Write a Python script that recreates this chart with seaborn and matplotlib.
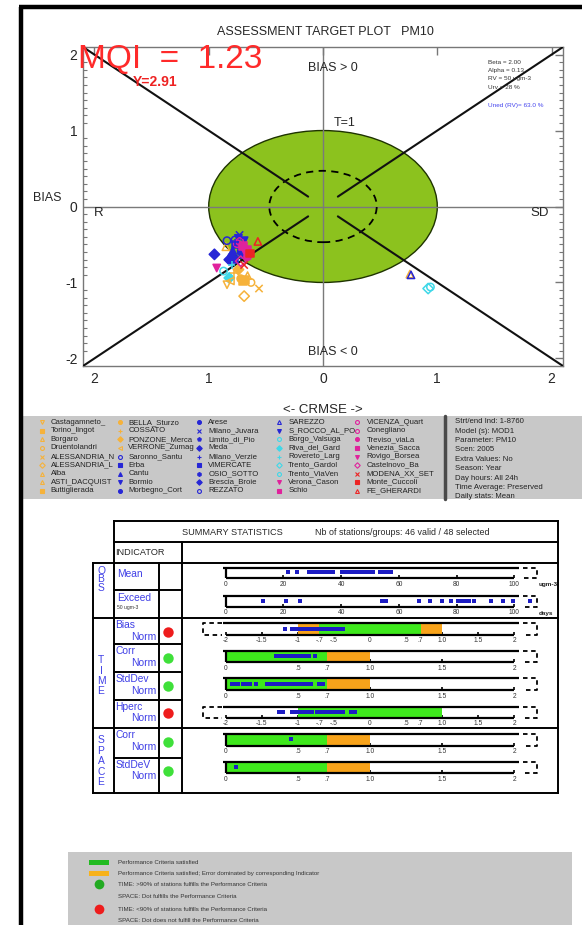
import numpy as np
import pandas as pd
import matplotlib
matplotlib.use("Agg")
import matplotlib.pyplot as plt
from matplotlib.patches import Circle, Rectangle
import seaborn as sns

sns.set_style("white")
plt.rcParams["font.family"] = ["Liberation Sans", "DejaVu Sans"]

W, H = 582, 925

# ---------------------------------------------------------------- data
stations = [
    "Castagamneto_", "Torino_lingot", "Borgaro", "Druentolandri", "ALESSANDRIA_N",
    "ALESSANDRIA_L", "Alba", "ASTI_DACQUIST", "Buttiglierada",
    "BELLA_Sturzo", "COSSATO", "PONZONE_Merca", "VERRONE_Zumag", "Saronno_Santu",
    "Erba", "Cantu", "Bormio", "Morbegno_Cort",
    "Arese", "Milano_Juvara", "Limito_di_Pio", "Meda", "Milano_Verzie",
    "VIMERCATE", "OSIO_SOTTO", "Brescia_Broie", "REZZATO",
    "SAREZZO", "S_ROCCO_AL_PO", "Borgo_Valsuga", "Riva_del_Gard", "Rovereto_Larg",
    "Trento_Gardol", "Trento_ViaVen", "Verona_Cason", "Schio",
    "VICENZA_Quart", "Conegliano", "Treviso_viaLa", "Venezia_Sacca", "Rovigo_Borsea",
    "Castelnovo_Ba", "MODENA_XX_SET", "Monte_Cuccoli", "FE_GHERARDI",
]
station_group = (["orange"] * 9 + ["orange"] * 4 + ["blue"] * 5 + ["blue"] * 9
                 + ["blue"] * 2 + ["cyan"] * 5 + ["magenta"] * 2
                 + ["magenta"] * 6 + ["red"] * 3)
station_marker = [
    "v", "s", "^", "o", "x", "D", "^", "^", "s",
    "o", "+", "D", "<", "o", "s", "^", "v", "o",
    "o", "x", "p", "D", "+", "s", "h", "D", "o",
    "^", "v", "o", "D", "+", "D", "o", "v", "s",
    "o", "o", "o", "s", "v", "D", "x", "s", "^",
]
station_open = [
    1, 0, 1, 1, 0, 1, 1, 1, 0,
    0, 0, 0, 1, 1, 0, 0, 0, 0,
    0, 0, 0, 0, 0, 0, 0, 0, 1,
    1, 0, 1, 0, 0, 1, 1, 0, 0,
    1, 1, 0, 0, 0, 1, 0, 0, 1,
]
# signed normalised CRMSE (x) and normalised bias (y)
crmse = [
    -0.84, -0.70, -0.66, -0.63, -0.56, -0.69, 0.76, -0.85, -0.68,
    -0.72, -0.78, -0.74, -0.81, -0.84, -0.76, -0.79, -0.74, -0.80,
    -0.71, -0.73, -0.70, -0.95, -0.77, -0.78, -0.72, -0.82, -0.77,
    0.77, -0.69, -0.87, -0.82, -0.80, 0.92, 0.94, -0.93, -0.66,
    -0.73, -0.75, -0.66, -0.70, -0.68, -0.72, -0.69, -0.64, -0.57,
]
bias = [
    -1.03, -0.99, -0.91, -1.00, -1.08, -1.18, -0.89, -0.53, -0.97,
    -0.95, -0.88, -0.83, -0.98, -0.45, -0.50, -0.58, -0.42, -0.66,
    -0.55, -0.375, -0.64, -0.63, -0.47, -0.70, -0.60, -0.70, -0.44,
    -0.90, -0.45, -0.85, -0.94, -0.77, -1.08, -1.06, -0.81, -0.57,
    -0.46, -0.49, -0.66, -0.52, -0.61, -0.72, -0.77, -0.62, -0.46,
]
group_colors = {"orange": "#f6b23a", "blue": "#2626d6", "cyan": "#3fd8e8",
                "magenta": "#e0229c", "red": "#ec2424"}

obs_mean = [21.7, 24.8, 28.9, 29.4, 30.0, 30.6, 31.1, 31.6, 32.2, 32.7, 33.1, 33.6,
            34.2, 34.7, 35.2, 35.8, 36.4, 36.9, 37.3, 40.2, 40.6, 41.1, 41.6, 42.0,
            42.5, 43.1, 43.6, 44.0, 44.5, 44.9, 45.5, 46.0, 46.4, 46.9, 47.4, 47.9,
            48.4, 48.9, 49.4, 49.9, 50.4, 50.9, 53.5, 54.6, 55.8, 57.2]
obs_exceed = [12.8, 20.9, 25.7, 54.0, 55.5, 67.1, 70.8, 74.8, 77.9, 80.6, 81.8,
              82.9, 84.4, 86.0, 91.8, 96.0, 99.4, 112.0, 125.0, 140.0]
corr_norm = [0.349, 0.372, 0.395, 0.418, 0.441, 0.464, 0.487, 0.510, 0.533,
             0.556, 0.580, 0.619, 0.40, 0.45, 0.50, 0.52]
stddev_norm = [0.041, 0.064, 0.087, 0.122, 0.145, 0.168, 0.210, 0.284, 0.312,
               0.335, 0.358, 0.381, 0.404, 0.427, 0.450, 0.473, 0.496, 0.520,
               0.543, 0.566, 0.589, 0.649, 0.672]
hperc_norm = [-1.257, -1.20, -1.085, -1.04, -0.99, -0.95, -0.90, -0.855, -0.81,
              -0.73, -0.69, -0.64, -0.59, -0.55, -0.50, -0.46, -0.41, -0.37,
              -0.265, -0.205]
space_corr = [0.45]
space_stddev = [0.07]

info_lines = ["Strt/end Ind: 1-8760", "Model (s): MOD1", "Parameter: PM10",
              "Scen: 2005", "Extra Values: No", "Season: Year",
              "Day hours: All 24h", "Time Average: Preserved", "Daily stats: Mean"]
param_lines = ["Beta = 2.00", "Alpha = 0.13", "RV = 50 ugm-3", "Urv = 28 %"]
criteria_lines = [
    "Performance Criteria satisfied",
    "Performance Criteria satisfied; Error dominated by corresponding Indicator",
    "TIME: >90% of stations fulfills the Performance Criteria",
    "SPACE: Dot fulfills the Performance Criteria",
    "TIME: <90% of stations fulfills the Performance Criteria",
    "SPACE: Dot does not fulfill the Performance Criteria",
]

GREEN_BAR = "#3ee81c"
ORANGE_BAR = "#f8a31a"
BLUE_TXT = "#4040e6"
DOT_BLUE = "#1c1cc4"


def frac(x0, y0, x1, y1):
    return [x0 / W, 1 - y1 / H, (x1 - x0) / W, (y1 - y0) / H]


fig = plt.figure(figsize=(W / 100, H / 100), dpi=100)
fig.patch.set_facecolor("white")

bg = fig.add_axes([0, 0, 1, 1], zorder=0)
bg.set_xlim(0, W); bg.set_ylim(H, 0); bg.axis("off")
fg = fig.add_axes([0, 0, 1, 1], zorder=20)
fg.set_xlim(0, W); fg.set_ylim(H, 0); fg.axis("off"); fg.patch.set_alpha(0)

# page frame and grey panels
bg.plot([20.5, 20.5], [7, H], color="black", lw=3.2, solid_capstyle="butt")
bg.plot([19, W], [7, 7], color="black", lw=3.2, solid_capstyle="butt")
bg.add_patch(Rectangle((22.5, 416), W - 22.5, 83, color="#c8c8c8", lw=0))
bg.add_patch(Rectangle((68, 851.5), 504, H - 851.5, color="#c8c8c8", lw=0))

# ---------------------------------------------------------------- target plot
ax = fig.add_axes(frac(83, 47, 563, 366), zorder=5)
ax.patch.set_alpha(0)
lim = 2.1
ax.set_xlim(-lim, lim); ax.set_ylim(-lim, lim)
ax.add_patch(Circle((0, 0), 1.0, facecolor="#8cc21e", edgecolor="#1e3300", lw=1.0, zorder=1))
ax.add_patch(Circle((0, 0), 0.47, fill=False, edgecolor="black", lw=1.3,
                    ls=(0, (4, 3)), zorder=3))
ax.axhline(0, color="#7a7a7a", lw=1.0, zorder=2)
ax.axvline(0, color="#7a7a7a", lw=1.0, zorder=2)
gap = 0.13
for sx in (-1, 1):
    for sy in (-1, 1):
        ax.plot([sx * lim, sx * gap], [sy * lim, sy * gap], color="#111111", lw=1.5, zorder=3)

df = pd.DataFrame({"station": stations, "crmse": crmse, "bias": bias,
                   "group": station_group, "marker": station_marker,
                   "open": station_open})
palette = {s: group_colors[g] for s, g in zip(stations, station_group)}
line_art = df["marker"].isin(["x", "+"])
for kind in ("filled", "open", "line"):
    if kind == "line":
        sub = df[line_art]
    elif kind == "open":
        sub = df[~line_art & (df["open"] == 1)]
    else:
        sub = df[~line_art & (df["open"] == 0)]
    n_before = len(ax.collections)
    sns.scatterplot(data=sub, x="crmse", y="bias", hue="station", style="station",
                    palette={s: palette[s] for s in sub["station"]},
                    markers={s: m for s, m in zip(sub["station"], sub["marker"])},
                    s=28, linewidth=1.1, legend=False, ax=ax, zorder=6,
                    **({"edgecolor": "face"} if kind == "filled" else {}))
    if kind == "open":
        coll = ax.collections[n_before]
        fc = coll.get_facecolors()
        coll.set_edgecolors(fc)
        coll.set_facecolors("none")
        coll.set_linewidths(1.1)

ax.set_xlabel(""); ax.set_ylabel("")
ax.set_xticks([-2, -1, 0, 1, 2])
ax.set_xticklabels(["2", "1", "0", "1", "2"])
ax.set_yticks([-2, -1, 0, 1, 2])
ax.set_yticklabels(["-2", "-1", "0", "1", "2"])
ax.set_yticks(np.round(np.arange(-2.1, 2.11, 0.1), 2), minor=True)
ax.tick_params(axis="both", which="major", direction="in", length=6, width=1,
               color="#777777", labelsize=10, top=True, right=True, pad=4)
ax.tick_params(axis="y", which="minor", direction="in", length=3, width=0.8,
               color="#777777", left=True, right=True)
for sp in ax.spines.values():
    sp.set_color("#777777"); sp.set_linewidth(1.0)

ax.text(0.09, 1.82, "BIAS > 0", ha="center", va="center", fontsize=9)
ax.text(0.19, 1.10, "T=1", ha="center", va="center", fontsize=9)
ax.text(0.09, -1.91, "BIAS < 0", ha="center", va="center", fontsize=9)
ax.text(-1.96, -0.09, "R", ha="center", va="center", fontsize=9.5)
ax.text(1.90, -0.09, "SD", ha="center", va="center", fontsize=9.5)

fg.text(325, 32, "ASSESSMENT TARGET PLOT   PM10", ha="center", va="center", fontsize=9)
fg.text(323, 410, "<- CRMSE ->", ha="center", va="center", fontsize=9.5)
fg.text(47, 198, "BIAS", ha="center", va="center", fontsize=9)
fg.text(78, 60, "MQI  =  1.23", ha="left", va="center", fontsize=24, color="#ff2a2a")
fg.text(133, 82, "Y=2.91", ha="left", va="center", fontsize=10, color="#ee2222",
        fontweight="bold")
for i, t in enumerate(param_lines):
    fg.text(488, 62 + 8.4 * i, t, ha="left", va="center", fontsize=4.6, color="#333333")
fg.text(488, 105, "Uned (RV)= 63.0 %", ha="left", va="center", fontsize=4.6, color="#4444ee")

# ---------------------------------------------------------------- station legend
col_marker_x = [42.3, 120, 199, 279, 357.3]
col_text_x = [50.7, 128.3, 208.3, 288.3, 366.7]
for k, (s, g, m, o) in enumerate(zip(stations, station_group, station_marker, station_open)):
    c, r = divmod(k, 9)
    yy = 422.3 + 8.55 * r
    col = group_colors[g]
    fg.plot(col_marker_x[c], yy, marker=m, ls="none", ms=2.8, color=col,
            mfc="none" if o else col, mew=0.8)
    fg.text(col_text_x[c], yy, s, ha="left", va="center", fontsize=5.6, color="#222222")
fg.plot([445, 445], [416, 499], color="#4a4a4a", lw=2.5)
for i, t in enumerate(info_lines):
    fg.text(455, 421.7 + 9.4 * i, t, ha="left", va="center", fontsize=5.6, color="#222222")

# ---------------------------------------------------------------- summary table
TL, TR = 114.3, 558
GL, NC, DC, CC = 92.7, 114.3, 159, 181.7
tbl = dict(color="black", lw=1.4, solid_capstyle="projecting")
for y in (520.7, 542):
    fg.plot([TL, TR], [y, y], **tbl)
for y in (563, 618.3, 728.3, 792.7):
    fg.plot([GL, TR], [y, y], **tbl)
for y in (590, 644.3, 672.3, 700, 757.7):
    fg.plot([NC, CC], [y, y], **tbl)
fg.plot([GL, GL], [563, 792.7], **tbl)
fg.plot([NC, NC], [520.7, 792.7], **tbl)
fg.plot([DC, DC], [563, 792.7], **tbl)
fg.plot([CC, CC], [542, 792.7], **tbl)
fg.plot([TR, TR], [520.7, 792.7], **tbl)

fg.text(182, 532.5, "SUMMARY STATISTICS", ha="left", va="center", fontsize=6.6)
fg.text(315, 532.5, "Nb of stations/groups: 46 valid / 48 selected", ha="left",
        va="center", fontsize=6.4)
fg.text(115.5, 552.5, "INDICATOR", ha="left", va="center", fontsize=6.6)

for letters, ys in (("OBS", [571, 579.3, 587.7]),
                    ("TIME", [660, 670.5, 681, 691.5]),
                    ("SPACE", [740, 750.6, 761.2, 771.8, 782.4])):
    for ch, yy in zip(letters, ys):
        fg.text(101, yy, ch, ha="center", va="center", fontsize=7.4, color=BLUE_TXT)

fg.text(117, 574.3, "Mean", ha="left", va="center", fontsize=7.4, color=BLUE_TXT)
fg.text(117, 598.3, "Exceed", ha="left", va="center", fontsize=7.4, color=BLUE_TXT)
fg.text(117, 607.6, "50 ugm-3", ha="left", va="center", fontsize=3.6, color="#333333")
norm_rows = [("Bias", 618.3, "#ee1c1c"), ("Corr", 644.3, "#3fe03a"),
             ("StdDev", 672.3, "#3fe03a"), ("Hperc", 700, "#ee1c1c"),
             ("Corr", 728.3, "#3fe03a"), ("StdDeV", 757.7, "#3fe03a")]
for name, top, dotc in norm_rows:
    fg.text(115.5, top + 6.8, name, ha="left", va="center", fontsize=7.4, color=BLUE_TXT)
    fg.text(156.5, top + 18.4, "Norm", ha="right", va="center", fontsize=7.4, color=BLUE_TXT)
    fg.plot(168.3, top + 13.3, marker="o", ms=7.5, color=dotc, mew=0)

X0, X1 = 225.7, 514.3


def draw_strip(top, bot, lo, hi, ticks, labels, bands, values, left_bracket, unit=None):
    sx = fig.add_axes(frac(X0, top, X1, bot), zorder=8)
    sx.patch.set_alpha(0)
    sx.set_xlim(lo, hi); sx.set_ylim(0, 1)
    for sp in sx.spines.values():
        sp.set_visible(False)
    span = hi - lo
    for left, right, col in bands:
        sx.barh(0.5, right - left, left=left, height=1, color=col, linewidth=0, zorder=1)
    line = dict(color="black", lw=1.6, clip_on=False, zorder=3, solid_capstyle="butt")
    sx.plot([lo - 0.010 * span, hi + 0.016 * span], [1, 1], **line)
    sx.plot([lo, hi], [0, 0], **line)
    if not left_bracket:
        sx.plot([lo, lo], [0, 1], **line)
    dash = dict(color="black", lw=1.3, ls=(0, (2.5, 2)), clip_on=False, zorder=3)
    a, b = hi + 0.030 * span, hi + 0.079 * span
    sx.plot([a, b, b, a], [1, 1, 0, 0], **dash)
    if left_bracket:
        a, b = lo - 0.013 * span, lo - 0.078 * span
        sx.plot([a, b, b, a], [1, 1, 0, 0], **dash)
    vals = np.asarray(values, dtype=float)
    # values beyond the scale are shown inside the dashed end boxes
    shown = np.clip(vals, lo - 0.045 * span, hi + 0.055 * span)
    sns.scatterplot(x=shown, y=np.full(len(shown), 0.55), ax=sx, color=DOT_BLUE,
                    marker="s", s=5, linewidth=0, legend=False, zorder=4, clip_on=False)
    sx.set_xlabel(""); sx.set_ylabel("")
    sx.set_yticks([])
    sx.set_xticks(ticks)
    sx.set_xticklabels(labels)
    sx.tick_params(axis="x", bottom=True, direction="in", length=2.5, width=1.2,
                   pad=1.8, labelsize=4.8, labelcolor="#333333", color="black")
    if unit:
        sx.text(hi + 0.085 * span, -0.62, unit, ha="left", va="center", fontsize=4.6,
                color="#222222", fontweight="bold")
    return sx


obs_ticks = [0, 20, 40, 60, 80, 100]
obs_labels = ["0", "20", "40", "60", "80", "100"]
bias_ticks = [-2, -1.5, -1, -0.7, -0.5, 0, 0.5, 0.7, 1.0, 1.5, 2]
bias_labels = ["-2", "-1.5", "-1", "-.7", "-.5", "0", ".5", ".7", "1.0", "1.5", "2"]
norm_ticks = [0, 0.5, 0.7, 1.0, 1.5, 2]
norm_labels = ["0", ".5", ".7", "1.0", "1.5", "2"]
bias_bands = [(-1, -0.7, ORANGE_BAR), (-0.7, 0.7, GREEN_BAR), (0.7, 1.0, ORANGE_BAR)]
hperc_bands = [(-1, 1, GREEN_BAR)]
norm_bands = [(0, 0.7, GREEN_BAR), (0.7, 1.0, ORANGE_BAR)]

draw_strip(567.7, 578.3, 0, 100, obs_ticks, obs_labels, [], obs_mean, False, "ugm-3")
draw_strip(595.7, 606.7, 0, 100, obs_ticks, obs_labels, [], obs_exceed, False, "days")
draw_strip(623.3, 635.0, -2, 2, bias_ticks, bias_labels, bias_bands, bias, True)
draw_strip(651.0, 662.3, 0, 2, norm_ticks, norm_labels, norm_bands, corr_norm, False)
draw_strip(678.3, 690.0, 0, 2, norm_ticks, norm_labels, norm_bands, stddev_norm, False)
draw_strip(706.7, 717.7, -2, 2, bias_ticks, bias_labels, hperc_bands, hperc_norm, True)
draw_strip(734.3, 745.7, 0, 2, norm_ticks, norm_labels, norm_bands, space_corr, False)
draw_strip(762.3, 773.3, 0, 2, norm_ticks, norm_labels, norm_bands, space_stddev, False)

# ---------------------------------------------------------------- criteria key
crit_y = [862.3, 873.3, 884.3, 896.7, 909.3, 920]
fg.add_patch(Rectangle((89.3, crit_y[0] - 2.8), 20, 5.6, color="#22bb22", lw=0))
fg.add_patch(Rectangle((89.3, crit_y[1] - 2.8), 20, 5.6, color="#f7b21c", lw=0))
fg.plot(99.3, crit_y[2], marker="o", ms=7, color="#22aa22", mew=0)
fg.plot(99.3, crit_y[4], marker="o", ms=7, color="#ee1c1c", mew=0)
for yy, t in zip(crit_y, criteria_lines):
    fg.text(118.3, yy, t, ha="left", va="center", fontsize=4.4, color="#333333")

fig.savefig("out.png", dpi=100, facecolor="white")
